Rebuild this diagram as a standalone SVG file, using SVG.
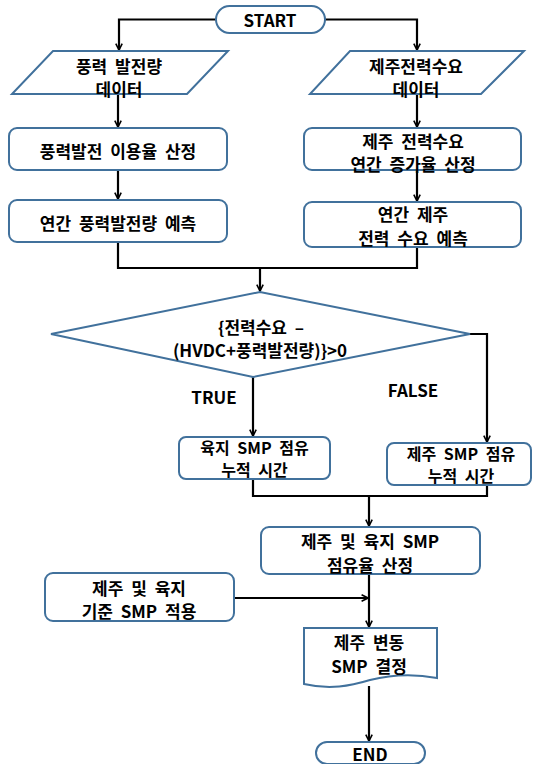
<svg xmlns="http://www.w3.org/2000/svg" width="533" height="764" viewBox="0 0 533 764">
<defs>
<style>
.n{fill:#ffffff;stroke:#41719C;stroke-width:2}
.c{fill:none;stroke:#000000;stroke-width:2.2}
text{font-family:"Noto Sans CJK KR","Noto Sans",sans-serif;font-weight:bold;font-size:17px;fill:#000000;text-anchor:middle;dominant-baseline:central;word-spacing:4px}
.s{font-size:16px}
</style>
<marker id="ah" viewBox="0 0 10 10" refX="9" refY="5" markerWidth="8" markerHeight="8" markerUnits="userSpaceOnUse" orient="auto">
<path d="M1,1 L9,5 L1,9" fill="none" stroke="#000" stroke-width="2"/>
</marker>
</defs>
<rect width="533" height="764" fill="#ffffff"/>
<g id="connectors">
<path class="c" d="M216,19.5 H119 V50" marker-end="url(#ah)"/>
<path class="c" d="M325,19.5 H417 V50" marker-end="url(#ah)"/>
<path class="c" d="M118,94 V127" marker-end="url(#ah)"/>
<path class="c" d="M417,94 V127" marker-end="url(#ah)"/>
<path class="c" d="M118,170 V199" marker-end="url(#ah)"/>
<path class="c" d="M417,170 V201" marker-end="url(#ah)"/>
<path class="c" d="M118,242 V268 H417 V247"/>
<path class="c" d="M260,268 V291" marker-end="url(#ah)"/>
<path class="c" d="M253,377 V436" marker-end="url(#ah)"/>
<path class="c" d="M470,334 H487 V442" marker-end="url(#ah)"/>
<path class="c" d="M253,479 V496 H487 V485"/>
<path class="c" d="M369,496 V526" marker-end="url(#ah)"/>
<path class="c" d="M369,574 V627" marker-end="url(#ah)"/>
<path class="c" d="M234,598 H368" marker-end="url(#ah)"/>
<path class="c" d="M369,686 V741" marker-end="url(#ah)"/>
</g>
<g id="start">
<rect class="n" x="216" y="6" width="109" height="27" rx="13.5"/>
<text x="270" y="19.5">START</text>
</g>
<g id="wind-data">
<polygon class="n" points="53,51 228,51 187,94 12,94"/>
<text x="119" y="65">풍력 발전량</text>
<text x="119" y="88">데이터</text>
</g>
<g id="jeju-data">
<polygon class="n" points="350,51 524,51 481,94 310,94"/>
<text x="416" y="65">제주전력수요</text>
<text x="416" y="88">데이터</text>
</g>
<g id="wind-rate">
<rect class="n" x="9" y="128" width="218" height="42" rx="8"/>
<text x="118" y="150">풍력발전 이용율 산정</text>
</g>
<g id="wind-forecast">
<rect class="n" x="9" y="200" width="218" height="42" rx="8"/>
<text x="118" y="222">연간 풍력발전량 예측</text>
</g>
<g id="jeju-rate">
<rect class="n" x="304" y="128" width="217" height="42" rx="8"/>
<text x="413" y="140">제주 전력수요</text>
<text x="413" y="163">연간 증가율 산정</text>
</g>
<g id="jeju-forecast">
<rect class="n" x="304" y="202" width="217" height="45" rx="8"/>
<text x="413" y="213">연간 제주</text>
<text x="413" y="237">전력 수요 예측</text>
</g>
<g id="decision">
<polygon class="n" points="51,334 260,292 470,334 253,377"/>
<text x="261" y="326">{전력수요 –</text>
<text x="260" y="349">(HVDC+풍력발전량)}&gt;0</text>
</g>
<g id="labels">
<text x="214" y="396">TRUE</text>
<text x="413" y="389">FALSE</text>
</g>
<g id="mainland-smp">
<rect class="n" x="179" y="437" width="151" height="42" rx="7"/>
<text class="s" x="254.5" y="447">육지 SMP 점유</text>
<text class="s" x="254.5" y="469">누적 시간</text>
</g>
<g id="jeju-smp">
<rect class="n" x="387" y="443" width="144" height="42" rx="7"/>
<text class="s" x="461" y="453">제주 SMP 점유</text>
<text class="s" x="461" y="475">누적 시간</text>
</g>
<g id="share-rate">
<rect class="n" x="261" y="527" width="219" height="47" rx="8"/>
<text x="370" y="540">제주 및 육지 SMP</text>
<text x="370" y="564">점유율 산정</text>
</g>
<g id="base-smp">
<rect class="n" x="45" y="573" width="189" height="48" rx="8"/>
<text x="139" y="587">제주 및 육지</text>
<text x="139" y="610">기준 SMP 적용</text>
</g>
<g id="smp-decision">
<path class="n" d="M304,628 H437 V678 C410,673 390,675 370,680 C350,686 330,690 304,684 Z"/>
<text x="369" y="641">제주 변동</text>
<text x="369" y="665">SMP 결정</text>
</g>
<g id="end">
<rect class="n" x="316" y="742" width="109" height="22" rx="11"/>
<text x="370" y="753">END</text>
</g>
</svg>
